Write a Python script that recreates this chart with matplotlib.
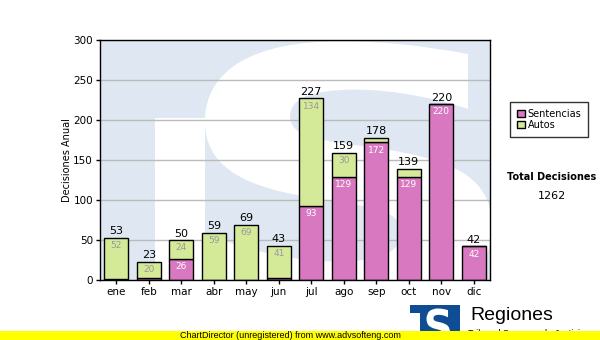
import numpy as np
import matplotlib
matplotlib.use('Agg')
import matplotlib.pyplot as plt
from matplotlib.patches import Patch, PathPatch, Rectangle
from matplotlib.textpath import TextPath
from matplotlib.font_manager import FontProperties
from matplotlib.transforms import Affine2D

# datos mensuales
meses = ['ene', 'feb', 'mar', 'abr', 'may', 'jun', 'jul', 'ago', 'sep', 'oct', 'nov', 'dic']
sentencias = [1, 3, 26, 0, 0, 2, 93, 129, 172, 129, 220, 42]
autos = [52, 20, 24, 59, 69, 41, 134, 30, 6, 10, 0, 0]
y_ticks = [0, 50, 100, 150, 200, 250, 300]

plt.rcParams['font.family'] = ['DejaVu Sans']

ROSA = '#D878C0'
VERDE = '#D5EA98'
AZUL_CLARO = '#DFE8F2'

fig = plt.figure(figsize=(6, 3.4), dpi=100)
ax = fig.add_axes([100 / 600, 60 / 340, 390 / 600, 240 / 340])
ax.set_facecolor(AZUL_CLARO)

# logo de fondo: S blanca grande y hueco a la izquierda
def patch_s(x0, y0, w, h, color, transform, zorder):
    tp = TextPath((0, 0), 'S', size=1, prop=FontProperties(family='DejaVu Sans', weight='bold'))
    ext = tp.get_extents()
    tr = Affine2D().translate(-ext.x0, -ext.y0).scale(w / ext.width, h / ext.height).translate(x0, y0)
    return PathPatch(tr.transform_path(tp), facecolor=color, edgecolor='none',
                     transform=transform, zorder=zorder)

ax.add_patch(patch_s(0.269, -0.125, 0.736, 1.12, 'white', ax.transAxes, 0.2))
ax.add_patch(Rectangle((0.141, 0), 0.128, 0.675, facecolor='white', edgecolor='none',
                       transform=ax.transAxes, zorder=0.2))

x = np.arange(len(meses))
totales = [s + a for s, a in zip(sentencias, autos)]

ax.bar(x, sentencias, width=0.74, color=ROSA, edgecolor='black', linewidth=1, zorder=3)
ax.bar(x, autos, width=0.74, bottom=sentencias, color=VERDE, edgecolor='black', linewidth=1, zorder=3)

# etiquetas de segmentos y totales
for i in range(len(meses)):
    if sentencias[i] >= 20:
        ax.annotate(str(sentencias[i]), (x[i], sentencias[i]), xytext=(0, -5.5),
                    textcoords='offset points', ha='center', va='center',
                    fontsize=6.5, color='white', zorder=4)
    if autos[i] >= 20:
        ax.annotate(str(autos[i]), (x[i], totales[i]), xytext=(0, -5.5),
                    textcoords='offset points', ha='center', va='center',
                    fontsize=6.5, color='#999999', zorder=4)
    ax.annotate(str(totales[i]), (x[i], totales[i]), xytext=(0, 1),
                textcoords='offset points', ha='center', va='bottom',
                fontsize=8, color='black', zorder=4)

ax.set_xlim(-0.5, len(meses) - 0.5)
ax.set_ylim(0, 300)
ax.set_yticks(y_ticks)
ax.set_xticks(x)
ax.set_xticklabels(meses)
ax.tick_params(axis='both', labelsize=7.5, length=3, width=1, color='black', pad=2)
ax.yaxis.grid(True, color='#BBBBBB', linewidth=1)
ax.set_axisbelow(False)
for gl in ax.get_ygridlines():
    gl.set_zorder(1)
for s in ax.spines.values():
    s.set_linewidth(1)
    s.set_zorder(5)
ax.set_ylabel('Decisiones Anual', fontsize=7, labelpad=1)

# leyenda y total
handles = [Patch(facecolor=ROSA, edgecolor='black', label='Sentencias'),
           Patch(facecolor=VERDE, edgecolor='black', label='Autos')]
leg = fig.legend(handles=handles, loc='upper left', bbox_to_anchor=(510 / 600, 1 - 102 / 340),
                 fontsize=7, frameon=True, fancybox=False, edgecolor='black',
                 handlelength=0.8, handleheight=0.8, handletextpad=0.3,
                 borderpad=0.7, labelspacing=0.1, borderaxespad=0)
leg.get_frame().set_linewidth(1)

fig.text(552 / 600, 1 - 177 / 340, 'Total Decisiones', ha='center', va='center',
         fontsize=7, fontweight='bold')
fig.text(552 / 600, 1 - 196 / 340, str(sum(totales)), ha='center', va='center', fontsize=8)

# logo inferior
logo_ax = fig.add_axes([410 / 600, 0, 50 / 600, 35 / 340])
logo_ax.set_xlim(0, 1)
logo_ax.set_ylim(0, 1)
logo_ax.axis('off')
logo_ax.add_patch(Rectangle((0, 0), 1, 1, facecolor='#0E4C94', edgecolor='none'))
logo_ax.add_patch(patch_s(0.33, -0.1, 0.47, 1.0, 'white', logo_ax.transAxes, 2))
logo_ax.add_patch(Rectangle((0.0, 0.0), 0.2, 0.78, facecolor='white', edgecolor='none', zorder=2))

fig.text(470 / 600, 1 - 316 / 340, 'Regiones', family='Liberation Sans', fontsize=14,
         ha='left', va='center')
fig.text(468 / 600, 1 - 334 / 340, 'Tribunal Supremo de Justicia', family='Liberation Sans',
         fontsize=6.5, ha='left', va='center')

# franja amarilla
fig.patches.append(Rectangle((0, 0), 1, 9 / 340, transform=fig.transFigure,
                             facecolor='#FFFF00', edgecolor='none', zorder=10))
fig.text(290 / 600, 4.5 / 340, 'ChartDirector (unregistered) from www.advsofteng.com',
         ha='center', va='center', fontsize=6.5, zorder=11, family='Liberation Sans')

fig.savefig('out.png', dpi=100)
